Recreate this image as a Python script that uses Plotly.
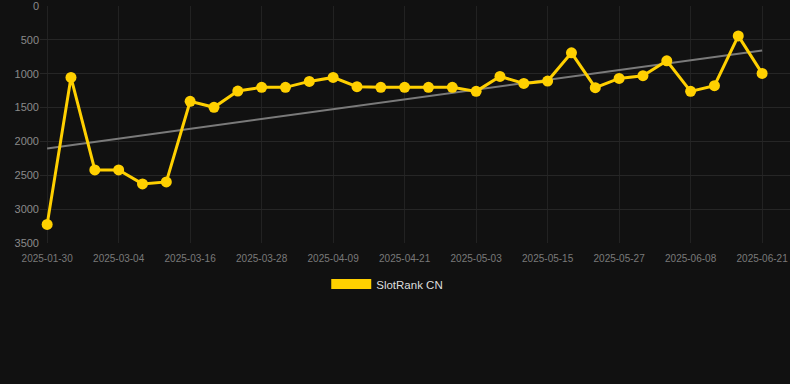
import plotly.graph_objects as go

dates = ["2025-01-30", "2025-02-10", "2025-02-21", "2025-03-04", "2025-03-08", "2025-03-12",
         "2025-03-16", "2025-03-20", "2025-03-24", "2025-03-28", "2025-04-01", "2025-04-05",
         "2025-04-09", "2025-04-13", "2025-04-17", "2025-04-21", "2025-04-25", "2025-04-29",
         "2025-05-03", "2025-05-07", "2025-05-11", "2025-05-15", "2025-05-19", "2025-05-23",
         "2025-05-27", "2025-05-31", "2025-06-04", "2025-06-08", "2025-06-12", "2025-06-16",
         "2025-06-21"]
rank = [3225, 1054, 2421, 2421, 2627, 2598, 1407, 1495, 1255, 1201, 1201, 1113, 1054, 1191,
        1201, 1201, 1201, 1201, 1260, 1039, 1142, 1108, 691, 1206, 1069, 1029, 809, 1260,
        1176, 441, 995]
trend_dates = [dates[0], dates[-1]]
trend_vals = [2103, 657]
tick_labels = dates[::3]
y_ticks = [0, 500, 1000, 1500, 2000, 2500, 3000, 3500]

gold = "#FFD000"

fig = go.Figure()
fig.add_trace(go.Scatter(x=trend_dates, y=trend_vals, mode="lines",
                         line=dict(color="#7a7a7a", width=2), showlegend=False,
                         hoverinfo="skip"))
fig.add_trace(go.Scatter(x=dates, y=rank, mode="lines+markers",
                         line=dict(color=gold, width=3),
                         marker=dict(color=gold, size=11),
                         showlegend=False, name="SlotRank CN"))
fig.add_trace(go.Scatter(x=[None], y=[None], mode="lines",
                         line=dict(color=gold, width=12), name="SlotRank CN",
                         showlegend=True))

fig.update_layout(
    width=790, height=384,
    paper_bgcolor="#111111", plot_bgcolor="#111111",
    margin=dict(l=40, r=0, t=6, b=141, autoexpand=False),
    font=dict(family="Liberation Sans, Arial, sans-serif", color="#8a8a8a"),
    xaxis=dict(type="category", categoryorder="array", categoryarray=dates,
               tickvals=tick_labels, ticktext=tick_labels, tickangle=0,
               range=[-0.3, 31.17], showgrid=True, gridcolor="#222222",
               tickfont=dict(size=10, color="#7a7a7a"), zeroline=False,
               showline=False, ticks="outside", ticklen=6, tickcolor="rgba(0,0,0,0)",
               ticklabeloverflow="allow"),
    yaxis=dict(range=[3500, -1], tickvals=y_ticks, showgrid=True,
               gridcolor="#262626", tickfont=dict(size=11, color="#8a8a8a"),
               zeroline=False, ticks="", showline=False, ticklabeloverflow="allow"),
    legend=dict(orientation="h", x=0.463, xanchor="center",
                y=-0.173, yanchor="middle",
                font=dict(size=11.5, color="#dddddd"), itemwidth=40,
                bgcolor="rgba(0,0,0,0)"),
)

fig.write_html("out.html", config={"displayModeBar": False},
               post_script="document.body.style.margin='0';document.body.style.background='#111111';")
